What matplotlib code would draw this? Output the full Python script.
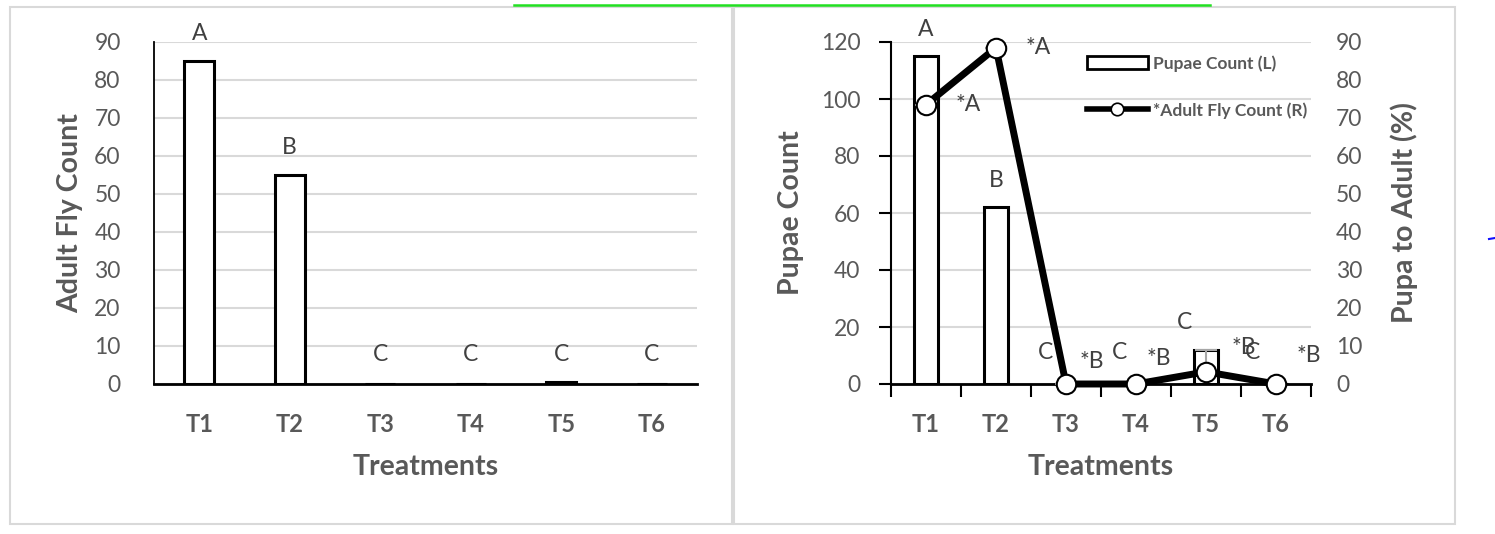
import numpy as np
import matplotlib
matplotlib.use("Agg")
import matplotlib.pyplot as plt
from matplotlib.patches import Rectangle, Patch
from matplotlib.lines import Line2D

plt.rcParams['font.family'] = ['Lato', 'DejaVu Sans']

# data
treatments = ['T1', 'T2', 'T3', 'T4', 'T5', 'T6']
adult_fly = [85, 55, 0, 0, 0.5, 0]
adult_letters = ['A', 'B', 'C', 'C', 'C', 'C']

pupae_count = [115, 62, 0, 0, 12, 0]
pupae_letters = ['A', 'B', 'C', 'C', 'C', 'C']
pupa_to_adult = [73.5, 88.5, 0, 0, 3.2, 0]
pupa_to_adult_err = [0, 0, 0, 0, 5.8, 0]
ratio_letters = ['*A', '*A', '*B', '*B', '*B', '*B']

GRAY = '#595959'
DARK = '#404040'
GRID = '#d9d9d9'
W, H = 1495, 534

fig = plt.figure(figsize=(W / 100, H / 100), dpi=100)

# panel frames
for x0, x1 in [(10, 732), (734, 1455)]:
    fig.add_artist(Rectangle((x0 / W, 1 - 524 / H), (x1 - x0) / W, (524 - 7) / H,
                             transform=fig.transFigure, fill=False,
                             edgecolor=GRID, lw=1.5))
fig.add_artist(Line2D([514 / W, 1210 / W], [1 - 4.5 / H, 1 - 4.5 / H],
                      transform=fig.transFigure, color='#22e022', lw=1.8))
fig.add_artist(Line2D([1489 / W, 1495 / W], [1 - 239 / H, 1 - 238 / H],
                      transform=fig.transFigure, color='#1010ff', lw=1.5))

x = np.arange(len(treatments))
bot, top = 384, 42
LAB = 20.5
TICK = 16.5
LET = 16.5

# ---- left chart
ax1 = fig.add_axes([154 / W, 1 - bot / H, (697 - 154) / W, (bot - top) / H])
ax1.bar(x, adult_fly, width=0.33, color='white', edgecolor='black', lw=2.2, zorder=3)
ax1.set_xlim(-0.5, 5.5)
ax1.set_ylim(0, 90)
ax1.set_yticks(range(0, 91, 10))
ax1.set_xticks(x)
ax1.set_xticklabels(treatments, fontsize=17, fontweight='bold', color=GRAY)
ax1.tick_params(axis='x', length=0, pad=21)
ax1.tick_params(axis='y', length=0, pad=24, labelsize=TICK, labelcolor=GRAY)
ax1.grid(axis='y', color=GRID, lw=1.5, zorder=0)
ax1.set_axisbelow(True)
for s in ['top', 'right']:
    ax1.spines[s].set_visible(False)
ax1.spines['left'].set_linewidth(1.3)
ax1.spines['bottom'].set_linewidth(2)
for i, (v, t) in enumerate(zip(adult_fly, adult_letters)):
    ax1.text(i, v + 7.3 if v > 1 else 7.7, t, ha='center', va='center',
             fontsize=LET, color=DARK)
ax1.set_ylabel('Adult Fly Count', fontsize=LAB, fontweight='bold', color=GRAY)
ax1.yaxis.set_label_coords(-0.131, 0.5)
ax1.set_xlabel('Treatments', fontsize=LAB, fontweight='bold', color=GRAY)
ax1.xaxis.set_label_coords(0.5, -0.205)

# ---- right chart
ax2 = fig.add_axes([891 / W, 1 - bot / H, (1311 - 891) / W, (bot - top) / H])
ax2.bar(x, pupae_count, width=0.33, color='white', edgecolor='black', lw=2.2, zorder=3)
ax2.set_xlim(-0.5, 5.5)
ax2.set_ylim(0, 120)
ax2.set_yticks(range(0, 121, 20))
ax2.set_xticks(x)
ax2.set_xticklabels(treatments, fontsize=17, fontweight='bold', color=GRAY)
ax2.set_xticks(np.arange(-0.5, 6, 1), minor=True)
ax2.tick_params(axis='x', which='major', length=0, pad=21)
ax2.tick_params(axis='x', which='minor', length=9, width=1.5, color='black')
ax2.tick_params(axis='y', length=9, width=1.5, pad=13, labelsize=TICK, labelcolor=GRAY)
ax2.grid(axis='y', color=GRID, lw=1.5, zorder=0)
ax2.set_axisbelow(True)
for s in ['top', 'right']:
    ax2.spines[s].set_visible(False)
ax2.spines['left'].set_linewidth(1.5)
ax2.spines['bottom'].set_linewidth(2)
bar_dx = [0, 0, -0.29, -0.24, -0.31, -0.34]
for i, (v, t) in enumerate(zip(pupae_count, pupae_letters)):
    ax2.text(i + bar_dx[i], v + 9.5 if v > 0 else 11, t, ha='center', va='center',
             fontsize=LET, color=DARK, zorder=6)
ax2.set_ylabel('Pupae Count', fontsize=LAB, fontweight='bold', color=GRAY)
ax2.yaxis.set_label_coords(-0.207, 0.5)
ax2.set_xlabel('Treatments', fontsize=LAB, fontweight='bold', color=GRAY)
ax2.xaxis.set_label_coords(0.5, -0.205)

ax3 = ax2.twinx()
ax3.set_ylim(0, 90)
ax3.set_yticks(range(0, 91, 10))
ax3.tick_params(axis='y', length=0, pad=18, labelsize=TICK, labelcolor=GRAY)
for s in ['top', 'right', 'left', 'bottom']:
    ax3.spines[s].set_visible(False)
ax3.errorbar(x, pupa_to_adult, yerr=[np.zeros(6), pupa_to_adult_err], fmt='none',
             ecolor='#a6a6a6', elinewidth=1.5, capsize=8, capthick=1.5, zorder=2)
ax3.plot(x, pupa_to_adult, color='black', lw=5, marker='o', ms=14,
         mfc='white', mec='black', mew=1.5, zorder=4, clip_on=False)
line_dx = [0.6, 0.6, 0.37, 0.33, 0.54, 0.47]
line_dy = [0, 0, 5.8, 6.8, 6.5, 7.6]
for i, (v, t) in enumerate(zip(pupa_to_adult, ratio_letters)):
    ax3.text(i + line_dx[i], v + line_dy[i], t, ha='center', va='center',
             fontsize=LET, color=DARK, zorder=6)
ax3.set_ylabel('Pupa to Adult (%)', fontsize=LAB, fontweight='bold', color=GRAY)
ax3.yaxis.set_label_coords(1.188, 0.5)

handles = [Patch(facecolor='white', edgecolor='black', lw=2),
           Line2D([0], [0], color='black', lw=4, marker='o', ms=9,
                  mfc='white', mec='black', mew=1.2)]
leg = ax3.legend(handles, ['Pupae Count (L)', '*Adult Fly Count (R)'],
                 loc='upper left', bbox_to_anchor=((1087 - 891) / 420, (bot - 55) / (bot - top)),
                 frameon=False, prop={'size': 12.5, 'weight': 'bold'},
                 handlelength=3.5, handletextpad=0.3, labelspacing=1.75,
                 borderaxespad=0, borderpad=0)
for t in leg.get_texts():
    t.set_color(GRAY)

fig.savefig('out.png', dpi=100)
